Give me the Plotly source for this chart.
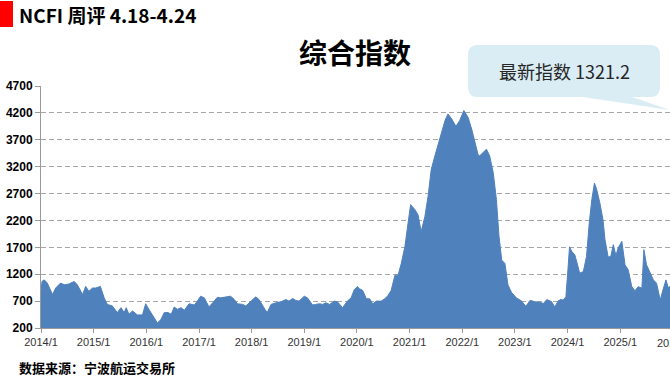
import plotly.graph_objects as go

# ---- data ----
dates = [
    "2014-01-01", "2014-01-08", "2014-01-23", "2014-02-14", "2014-03-22", "2014-04-13", "2014-05-05", "2014-05-16",
    "2014-06-11", "2014-07-13", "2014-08-19", "2014-09-10", "2014-10-16", "2014-11-07", "2014-11-29", "2014-12-25",
    "2015-01-16", "2015-02-17", "2015-03-15", "2015-04-06", "2015-05-12", "2015-06-14", "2015-07-10", "2015-08-01",
    "2015-08-15", "2015-09-03", "2015-09-28", "2015-10-31", "2015-12-06", "2015-12-28",
    "2016-01-19", "2016-02-25", "2016-03-19", "2016-04-13", "2016-05-05", "2016-05-31", "2016-06-22", "2016-07-13",
    "2016-08-04", "2016-08-30", "2016-09-21", "2016-10-24", "2016-11-29", "2016-12-21",
    "2017-01-12", "2017-02-07", "2017-03-11", "2017-04-06", "2017-05-09", "2017-05-31", "2017-06-25", "2017-07-17",
    "2017-08-08", "2017-09-03", "2017-09-24", "2017-10-31", "2017-11-22", "2017-12-28",
    "2018-01-30", "2018-02-21", "2018-03-19", "2018-04-10", "2018-04-21", "2018-05-16", "2018-06-18", "2018-07-24",
    "2018-08-26", "2018-09-17", "2018-10-13", "2018-11-04", "2018-11-26",
    "2019-01-01", "2019-01-23", "2019-02-28", "2019-03-22", "2019-04-17", "2019-05-09", "2019-05-31", "2019-06-25",
    "2019-07-28", "2019-08-19", "2019-09-24", "2019-10-27", "2019-11-22", "2019-12-14",
    "2020-01-04", "2020-01-19", "2020-02-10", "2020-03-07", "2020-03-29", "2020-04-20", "2020-05-16", "2020-06-18",
    "2020-07-13", "2020-08-04", "2020-08-26", "2020-09-21", "2020-10-13", "2020-11-04", "2020-11-29", "2020-12-21",
    "2021-01-08", "2021-02-07", "2021-02-28", "2021-03-22", "2021-04-17", "2021-05-09", "2021-05-31", "2021-06-25",
    "2021-07-17", "2021-08-08", "2021-09-03", "2021-09-24", "2021-10-20", "2021-11-18", "2021-12-14",
    "2022-01-12", "2022-02-10", "2022-03-07", "2022-03-29", "2022-04-20", "2022-05-01", "2022-05-27", "2022-06-18",
    "2022-07-10", "2022-08-04", "2022-08-26", "2022-09-13", "2022-10-02", "2022-10-24", "2022-11-14", "2022-12-10",
    "2023-01-12", "2023-02-17", "2023-03-18", "2023-04-17", "2023-05-20", "2023-06-22", "2023-07-17", "2023-08-11",
    "2023-09-13", "2023-10-05", "2023-10-27", "2023-11-14", "2023-12-02", "2023-12-21",
    "2024-01-04", "2024-01-15", "2024-01-30", "2024-02-21", "2024-03-14", "2024-03-25", "2024-04-20", "2024-05-12",
    "2024-05-31", "2024-06-18", "2024-07-06", "2024-07-21", "2024-08-12", "2024-09-03", "2024-09-17", "2024-10-09",
    "2024-10-27", "2024-11-14", "2024-12-02", "2024-12-17",
    "2025-01-12", "2025-02-03", "2025-02-25", "2025-03-22", "2025-04-13", "2025-05-05", "2025-05-31", "2025-06-14",
    "2025-07-02", "2025-07-28", "2025-08-19", "2025-09-10", "2025-10-05", "2025-10-24", "2025-11-14", "2025-11-29",
    "2025-12-14",
]
values = [
    880, 1066, 1096, 1035, 822, 944, 1005, 1035,
    1005, 1017, 1066, 1005, 822, 974, 883, 944,
    944, 974, 761, 639, 608, 486, 578, 486,
    578, 456, 517, 444, 444, 651,
    547, 395, 291, 364, 486, 486, 456, 590,
    547, 578, 529, 651, 627, 700,
    791, 761, 590, 669, 773, 761, 773, 779,
    791, 730, 651, 639, 608, 700,
    779, 730, 608, 517, 498, 639, 669, 688,
    730, 700, 749, 712, 700,
    791, 761, 627, 639, 651, 639, 669, 639,
    700, 688, 578, 700, 761, 913,
    970, 931, 900, 744, 744, 650, 700, 700,
    744, 806, 900, 1181, 1181, 1400, 1712, 2150,
    2494, 2400, 2306, 1994, 2275, 2650, 3150, 3400,
    3619, 3837, 4056, 4181, 4087, 3950, 4056,
    4244, 4120, 3900, 3650, 3431, 3400, 3462, 3525,
    3400, 3087, 2587, 1900, 1462, 1400, 1000, 856,
    760, 700, 603, 715, 687, 680, 656, 728,
    690, 590, 700, 731, 719, 781,
    1281, 1710, 1625, 1560, 1344, 1219, 1250, 1531,
    2156, 2594, 2894, 2781, 2531, 2219, 1844, 1519,
    1530, 1750, 1544, 1687,
    1812, 1375, 1281, 969, 894, 969, 940, 1656,
    1375, 1219, 1094, 1031, 719, 906, 1094, 956,
    969,
]
x_tick_vals = ["2014-01-01", "2015-01-01", "2016-01-01", "2017-01-01", "2018-01-01", "2019-01-01",
               "2020-01-01", "2021-01-01", "2022-01-01", "2023-01-01", "2024-01-01", "2025-01-01"]
x_tick_text = ["2014/1", "2015/1", "2016/1", "2017/1", "2018/1", "2019/1",
               "2020/1", "2021/1", "2022/1", "2023/1", "2024/1", "2025/1"]
y_tick_vals = [200, 700, 1200, 1700, 2200, 2700, 3200, 3700, 4200, 4700]

header = "NCFI 周评 4.18-4.24"
chart_title = "综合指数"
callout = "最新指数 1321.2"
source = "数据来源：宁波航运交易所"

# ---- layout geometry (pixels) ----
W, H = 670, 380
L, R, T, B = 41, 0, 86, 52
PW, PH = W - L - R, H - T - B


def px(x):
    return (x - L) / PW


def py(y):
    return (H - B - y) / PH


fig = go.Figure()
fig.add_trace(go.Scatter(
    x=dates, y=values, mode="lines", fill="tozeroy",
    line=dict(color="#4f81bd", width=1), fillcolor="#4f81bd",
    hoverinfo="skip",
))

grid_c = "#a6a6a6"
axis_c = "#9a9a9a"
fig.update_layout(
    width=W, height=H,
    margin=dict(l=L, r=R, t=T, b=B, pad=0),
    paper_bgcolor="white", plot_bgcolor="white",
    showlegend=False,
    xaxis=dict(
        type="date", range=["2014-01-01", "2025-12-12"],
        tickmode="array", tickvals=x_tick_vals, ticktext=x_tick_text,
        ticks="outside", ticklen=4, tickcolor=axis_c,
        showline=True, linecolor=axis_c, linewidth=1,
        showgrid=False, zeroline=False,
        tickfont=dict(family="Liberation Sans", size=11, color="#333333"),
    ),
    yaxis=dict(
        range=[200, 4700],
        tickmode="array", tickvals=y_tick_vals,
        ticks="outside", ticklen=5, tickcolor=axis_c,
        showline=True, linecolor=axis_c, linewidth=1,
        showgrid=True, gridcolor=grid_c, gridwidth=1, griddash="5px,3px",
        zeroline=False,
        tickfont=dict(family="Liberation Sans", size=12, color="#000000", weight="bold"),
    ),
)

# red marker block top-left
fig.add_shape(type="rect", xref="paper", yref="paper",
              x0=px(0), x1=px(13), y0=py(27), y1=py(1),
              fillcolor="#ff0000", line=dict(width=0))

# callout bubble with tail
pts = [
    ("M", 478, 45), ("L", 650, 45), ("Q", 660, 45, 660, 55), ("L", 660, 87),
    ("Q", 660, 97, 650, 97), ("L", 632, 97), ("L", 670, 110), ("L", 583, 97),
    ("L", 478, 97), ("Q", 468, 97, 468, 87), ("L", 468, 55), ("Q", 468, 45, 478, 45),
]
path = ""
for p in pts:
    cmd = p[0]
    coords = p[1:]
    parts = []
    for i in range(0, len(coords), 2):
        parts.append(f"{px(coords[i]):.5f},{py(coords[i + 1]):.5f}")
    path += cmd + " " + " ".join(parts) + " "
path += "Z"
fig.add_shape(type="path", xref="paper", yref="paper", path=path,
              fillcolor="#daedf4", line=dict(width=0), layer="above")

cjk = "Noto Sans CJK SC"
fig.add_annotation(text="<b>" + header + "</b>", xref="paper", yref="paper",
                   x=px(17), y=py(14), xanchor="left", yanchor="middle", showarrow=False,
                   font=dict(family=cjk, size=19, color="#000000"))
fig.add_annotation(text="<b>" + chart_title + "</b>", xref="paper", yref="paper",
                   x=px(355), y=py(52), xanchor="center", yanchor="middle", showarrow=False,
                   font=dict(family=cjk, size=28, color="#000000"))
fig.add_annotation(text=callout, xref="paper", yref="paper",
                   x=px(564), y=py(71), xanchor="center", yanchor="middle", showarrow=False,
                   font=dict(family=cjk, size=18, color="#262626"))
fig.add_annotation(text="<b>" + source + "</b>", xref="paper", yref="paper",
                   x=px(17), y=py(367), xanchor="left", yanchor="middle", showarrow=False,
                   font=dict(family=cjk, size=13, color="#000000"))
# partially visible next-year label at the cropped right edge (as in the reference)
fig.add_annotation(text="2026/1", xref="paper", yref="paper",
                   x=px(674), y=py(343), xanchor="center", yanchor="middle", showarrow=False,
                   font=dict(family="Liberation Sans", size=11, color="#333333"))

fig.write_html("out.html", config={"displayModeBar": False},
               post_script="document.body.style.margin='0';document.body.style.overflow='hidden';")
